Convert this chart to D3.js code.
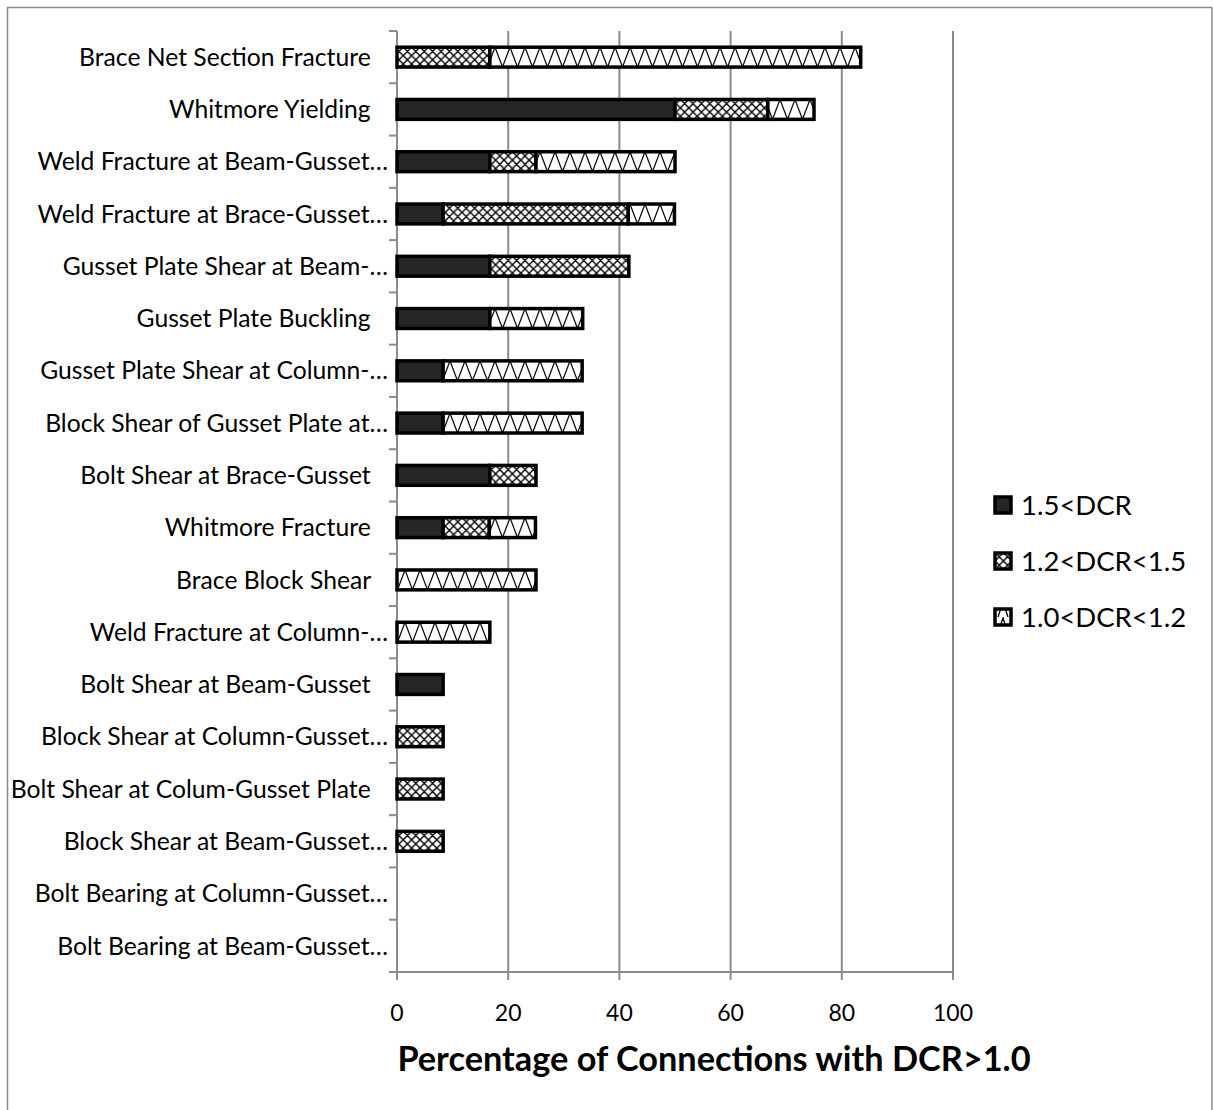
<!DOCTYPE html>
<html>
<head>
<meta charset="utf-8">
<title>Percentage of Connections with DCR>1.0</title>
<style>
html, body {
  margin: 0;
  padding: 0;
  background: #fff;
}
svg text {
  font-family: 'Lato', 'Noto Sans', sans-serif;
  fill: #000;
}
.cat {
  font-size: 24.7px;
  white-space: pre;
}
.tick-label {
  font-size: 23px;
}
.axis-title {
  font-size: 34.3px;
  font-weight: bold;
}
.legend-label {
  font-size: 27.5px;
}
.grid, .axis-line {
  stroke: #8c8c8c;
  stroke-width: 2px;
}
.seg {
  stroke: #000;
  stroke-width: 3.5px;
}
</style>
<script src="https://d3js.org/d3.v7.min.js"></script>
</head>
<body>
<svg width="1213" height="1110"></svg>
<script>

// failure modes, top to bottom
var categories = [
  "Brace Net Section Fracture ",
  "Whitmore Yielding ",
  "Weld Fracture at Beam-Gusset…",
  "Weld Fracture at Brace-Gusset…",
  "Gusset Plate Shear at Beam-…",
  "Gusset Plate Buckling ",
  "Gusset Plate Shear at Column-…",
  "Block Shear of Gusset Plate at…",
  "Bolt Shear at Brace-Gusset ",
  "Whitmore Fracture ",
  "Brace Block Shear ",
  "Weld Fracture at Column-…",
  "Bolt Shear at Beam-Gusset ",
  "Block Shear at Column-Gusset…",
  "Bolt Shear at Colum-Gusset Plate ",
  "Block Shear at Beam-Gusset…",
  "Bolt Bearing at Column-Gusset…",
  "Bolt Bearing at Beam-Gusset…"
];

// percent of connections in each DCR range
var dcrOver15 = [0, 50, 16.7, 8.3, 16.7, 16.7, 8.3, 8.3, 16.7, 8.3, 0, 0, 8.3, 0, 0, 0, 0, 0];
var dcr12to15 = [16.7, 16.7, 8.3, 33.3, 25, 0, 0, 0, 8.3, 8.3, 0, 0, 0, 8.3, 8.3, 8.3, 0, 0];
var dcr10to12 = [66.7, 8.3, 25, 8.3, 0, 16.7, 25, 25, 0, 8.3, 25, 16.7, 0, 0, 0, 0, 0, 0];

var seriesNames = ["1.5<DCR", "1.2<DCR<1.5", "1.0<DCR<1.2"];
var xTicks = [0, 20, 40, 60, 80, 100];

var keys = ["s0", "s1", "s2"];
var rows = categories.map(function(c, i) {
  return { cat: c, s0: dcrOver15[i], s1: dcr12to15[i], s2: dcr10to12[i] };
});

var svg = d3.select("svg");

var x = d3.scaleLinear().domain([0, 100]).range([397, 953]);
var y = d3.scaleBand().domain(categories).range([31, 972]).paddingInner(0.62).paddingOuter(0.31);
var barH = y.bandwidth();

// patterns
var defs = svg.append("defs");

var cross = defs.append("pattern")
    .attr("id", "cross")
    .attr("patternUnits", "userSpaceOnUse")
    .attr("width", 8.4).attr("height", 8.4);
cross.append("rect").attr("width", 8.4).attr("height", 8.4).attr("fill", "#fff");
cross.append("path")
    .attr("d", "M0,0L8.4,8.4M8.4,0L0,8.4M-1,7.4L1,9.4M7.4,-1L9.4,1")
    .attr("stroke", "#000").attr("stroke-width", 1.4).attr("fill", "none");

var zig = defs.append("pattern")
    .attr("id", "zig")
    .attr("patternUnits", "userSpaceOnUse")
    .attr("width", 15).attr("height", barH);
zig.append("rect").attr("width", 15).attr("height", barH).attr("fill", "#fff");
zig.append("path")
    .attr("d", "M0,0L7.5," + barH + "L15,0")
    .attr("stroke", "#000").attr("stroke-width", 1.2).attr("fill", "none");

// small version for the legend swatch
var zigSmall = defs.append("pattern")
    .attr("id", "zigSmall")
    .attr("patternUnits", "userSpaceOnUse")
    .attr("width", 16).attr("height", 16);
zigSmall.append("rect").attr("width", 16).attr("height", 16).attr("fill", "#fff");
zigSmall.append("path")
    .attr("d", "M3,16L8,1L13,16")
    .attr("stroke", "#000").attr("stroke-width", 1.3).attr("fill", "none");

var fills = ["#262626", "url(#cross)", "url(#zig)"];
var legendFills = ["#262626", "url(#cross)", "url(#zigSmall)"];

// outer chart border
svg.append("path")
    .attr("d", "M1212,7.5H7.5V1110M1212,7.5V1110")
    .attr("fill", "none").attr("stroke", "#8c8c8c").attr("stroke-width", 1.5);

// vertical gridlines
svg.selectAll(".grid")
  .data(xTicks.slice(1))
  .enter().append("line")
    .attr("class", "grid")
    .attr("x1", function(d) { return x(d); })
    .attr("x2", function(d) { return x(d); })
    .attr("y1", 31).attr("y2", 972);

// y axis line and ticks at band boundaries
svg.append("line").attr("class", "axis-line")
    .attr("x1", x(0)).attr("x2", x(0)).attr("y1", 31).attr("y2", 972);
var step = y.step();
var bounds = d3.range(categories.length + 1).map(function(i) { return 31 + i * step; });
svg.selectAll(".ytick")
  .data(bounds)
  .enter().append("line")
    .attr("class", "axis-line ytick")
    .attr("x1", x(0) - 8).attr("x2", x(0))
    .attr("y1", function(d) { return d; })
    .attr("y2", function(d) { return d; });

// x axis
svg.append("line").attr("class", "axis-line")
    .attr("x1", x(0) - 8).attr("x2", x(100)).attr("y1", 972).attr("y2", 972);
svg.selectAll(".xtick")
  .data(xTicks)
  .enter().append("line")
    .attr("class", "axis-line xtick")
    .attr("x1", function(d) { return x(d); })
    .attr("x2", function(d) { return x(d); })
    .attr("y1", 972).attr("y2", 980);
svg.selectAll(".tick-label")
  .data(xTicks)
  .enter().append("text")
    .attr("class", "tick-label")
    .attr("x", function(d) { return x(d); })
    .attr("y", 1021)
    .attr("text-anchor", "middle")
    .text(function(d) { return d; });

svg.append("text")
    .attr("class", "axis-title")
    .attr("x", 714).attr("y", 1071)
    .attr("text-anchor", "middle")
    .text("Percentage of Connections with DCR>1.0");

// category labels (untruncated ones carry a trailing space, which Excel renders wider)
svg.selectAll(".cat")
  .data(categories)
  .enter().append("text")
    .attr("class", "cat")
    .attr("x", 388)
    .attr("dx", function(d) { return d.slice(-1) === " " ? -11 : 0; })
    .attr("y", function(d) { return y(d) + barH / 2; })
    .attr("dy", "0.35em")
    .attr("text-anchor", "end")
    .text(function(d) { return d; });

// stacked bars
var stacked = d3.stack().keys(keys)(rows);

var layer = svg.selectAll(".layer")
  .data(stacked)
  .enter().append("g")
    .attr("class", "layer");

layer.selectAll("g")
  .data(function(s, i) {
    return s.filter(function(d) { return d[1] - d[0] > 0; })
            .map(function(d) { return { d: d, i: i }; });
  })
  .enter().append("g")
    .attr("transform", function(o) { return "translate(0," + y(o.d.data.cat) + ")"; })
  .append("rect")
    .attr("class", "seg")
    .attr("x", function(o) { return x(o.d[0]); })
    .attr("y", 0)
    .attr("width", function(o) { return x(o.d[1]) - x(o.d[0]); })
    .attr("height", barH)
    .attr("fill", function(o) { return fills[o.i]; });

// legend
var legend = svg.selectAll(".legend")
  .data(seriesNames)
  .enter().append("g")
    .attr("class", "legend")
    .attr("transform", function(d, i) { return "translate(995," + (505 + i * 56) + ")"; });

legend.append("rect")
    .attr("x", 0).attr("y", -8)
    .attr("width", 16).attr("height", 16)
    .attr("fill", function(d, i) { return legendFills[i]; })
    .attr("stroke", "#000").attr("stroke-width", 3.5);

legend.append("text")
    .attr("class", "legend-label")
    .attr("x", 26).attr("y", 0)
    .attr("dy", "0.35em")
    .text(function(d) { return d; });

</script>
</body>
</html>
